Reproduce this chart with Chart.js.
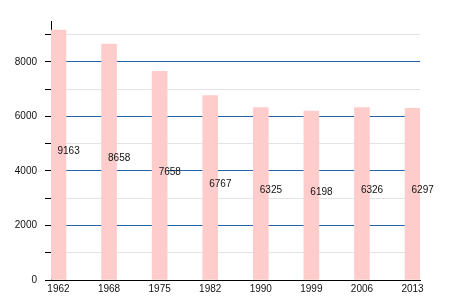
<!DOCTYPE html>
<html>
<head>
<meta charset="utf-8">
<script src="https://cdn.jsdelivr.net/npm/chart.js@4/dist/chart.umd.min.js"></script>
<style>
  html, body { margin: 0; padding: 0; background: #fff; }
  #chart { display: block; }
</style>
</head>
<body>
<canvas id="chart" width="450" height="300"></canvas>
<script>
// population by census year
const years = ['1962', '1968', '1975', '1982', '1990', '1999', '2006', '2013'];
const population = [9163, 8658, 7658, 6767, 6325, 6198, 6326, 6297];
const yMax = 9500;
const majorStep = 2000;
const minorStep = 500;

const FONT = "'Liberation Sans', Arial, sans-serif";

// value labels, drawn from the bar's mid height
const valueLabels = {
  id: 'valueLabels',
  afterDatasetsDraw(chart) {
    const ctx = chart.ctx;
    const xs = chart.scales.x, ys = chart.scales.y;
    ctx.save();
    ctx.font = '10px ' + FONT;
    ctx.fillStyle = '#111';
    ctx.textAlign = 'left';
    ctx.textBaseline = 'alphabetic';
    population.forEach((v, i) => {
      ctx.fillText(String(v), xs.getPixelForValue(i) - 1, ys.getPixelForValue(v / 2) - 1);
    });
    ctx.restore();
  }
};

new Chart(document.getElementById('chart'), {
  type: 'bar',
  data: {
    datasets: [{
      data: population.map((v, i) => ({ x: i, y: v })),
      backgroundColor: 'rgb(255,204,204)',
      borderWidth: 0,
      barThickness: 15
    }]
  },
  options: {
    responsive: false,
    animation: false,
    layout: { padding: { top: 21, right: 30, left: 0, bottom: 0 } },
    plugins: { legend: { display: false }, tooltip: { enabled: false } },
    scales: {
      x: {
        type: 'linear',
        offset: false,
        min: -0.148,
        max: years.length - 1 + 0.148,
        afterBuildTicks(scale) {
          scale.ticks = years.map((y, i) => ({ value: i }));
        },
        afterFit(scale) { scale.height = 20; },
        grid: { display: false, offset: false, drawTicks: false, tickLength: 0 },
        border: { display: true, color: '#000', width: 1 },
        ticks: {
          autoSkip: false,
          maxRotation: 0,
          padding: 3,
          color: '#111',
          font: { family: FONT, size: 10 },
          callback: v => years[v] || ''
        }
      },
      y: {
        min: 0,
        max: yMax,
        afterFit(scale) { scale.width = 51; },
        afterBuildTicks(scale) {
          const t = [];
          for (let v = 0; v <= yMax; v += minorStep) t.push({ value: v });
          scale.ticks = t;
        },
        grid: {
          color: c => {
            const v = c.tick ? c.tick.value : 0;
            if (v === 0) return 'rgba(0,0,0,0)';
            return v % majorStep === 0 ? '#2563a6' : '#e3e3e3';
          },
          lineWidth: 1,
          tickLength: 6,
          tickColor: '#000',
          drawTicks: true
        },
        border: { display: true, color: '#000', width: 1 },
        ticks: {
          padding: 8,
          color: '#111',
          font: { family: FONT, size: 10 },
          callback: v => (v % majorStep === 0 ? String(v) : '')
        }
      }
    }
  },
  plugins: [valueLabels]
});
</script>
</body>
</html>
